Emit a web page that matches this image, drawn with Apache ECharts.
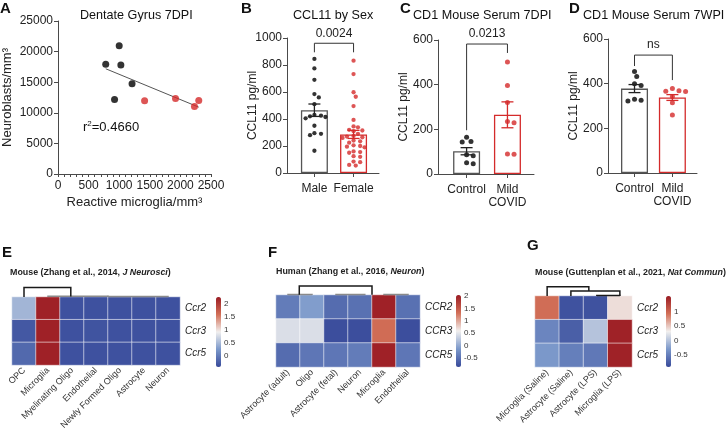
<!DOCTYPE html>
<html lang="en">
<head>
<meta charset="UTF-8">
<title>CCL11 figure</title>
<script src="https://cdn.jsdelivr.net/npm/echarts@6.0.0/dist/echarts.min.js"></script>
<style>
  html, body { margin: 0; padding: 0; background: #fff; }
  #main { width: 727px; height: 432px; }
</style>
</head>
<body>
<div id="main"></div>
<script>
// ---- A: neuroblasts vs reactive microglia (dentate gyrus 7DPI)
var aControlX = [780, 1000, 1027, 924, 1210];
var aControlY = [17930, 20940, 17800, 12170, 14750];
var aCovidX = [1415, 1920, 2230, 2300];
var aCovidY = [11950, 12330, 11020, 12000];
var aR2 = '0.4660';

// ---- B: CCL11 by sex
var sexGroups = ['Male', 'Female'];
var maleVals = [845, 775, 690, 585, 560, 510, 420, 415, 425, 405, 430, 350, 290, 280, 295, 165];
var femaleVals = [832, 733, 598, 565, 496, 393, 345, 338, 320, 315, 310, 290, 275, 270, 265, 260,
  240, 235, 225, 205, 200, 195, 190, 160, 155, 150, 125, 120, 85, 80, 55, 60];
var sexMean = [465, 286];
var sexSem = [46, 30];
var sexP = '0.0024';

// ---- C: CD1 mouse serum 7DPI
var covidGroups = ['Control', 'Mild\nCOVID'];
var c7dControl = [164, 146, 143, 86, 82, 50, 46];
var c7dCovid = [502, 396, 320, 235, 230, 88, 90];
var c7dMean = [102, 265];
var c7dSem = [16, 58];
var c7dP = '0.0213';

// ---- D: CD1 mouse serum 7WPI
var c7wControl = [455, 432, 400, 392, 330, 326, 322];
var c7wCovid = [378, 368, 365, 366, 342, 315, 260];
var c7wMean = [378, 338];
var c7wSem = [18, 13];
var c7wP = 'ns';

// ---- E: mouse, Zhang 2014
var eCols = ['OPC', 'Microglia', 'Myelinating Oligo', 'Endothelial', 'Newly Formed Oligo', 'Astrocyte', 'Neuron'];
var eRows = ['Ccr2', 'Ccr3', 'Ccr5'];
var eCcr2 = [0.45, 2.2, -0.38, -0.38, -0.38, -0.38, -0.38];
var eCcr3 = [-0.32, 2.2, -0.38, -0.36, -0.38, -0.38, -0.38];
var eCcr5 = [-0.18, 2.2, -0.38, -0.38, -0.38, -0.38, -0.38];
var eTicks = [0, 0.5, 1, 1.5, 2];

// ---- F: human, Zhang 2016
var fCols = ['Astrocyte (adult)', 'Oligo', 'Astrocyte (fetal)', 'Neuron', 'Microglia', 'Endothelial'];
var fRows = ['CCR2', 'CCR3', 'CCR5'];
var fCcr2 = [-0.4, -0.1, -0.55, -0.5, 2.0, -0.5];
var fCcr3 = [0.45, 0.45, -0.82, -0.82, 1.35, -0.82];
var fCcr5 = [-0.55, -0.45, -0.45, -0.4, 2.0, -0.45];
var fTicks = [-0.5, 0, 0.5, 1, 1.5, 2];

// ---- G: mouse, Guttenplan 2021
var gCols = ['Microglia (Saline)', 'Astrocyte (Saline)', 'Astrocyte (LPS)', 'Microglia (LPS)'];
var gRows = ['Ccr2', 'Ccr3', 'Ccr5'];
var gCcr2 = [0.95, -0.85, -0.85, 0.4];
var gCcr3 = [-0.45, -0.75, 0.0, 1.5];
var gCcr5 = [-0.3, -0.5, -0.55, 1.5];
var gTicks = [-0.5, 0, 0.5, 1];

// dendrogram links: [x1, x2, top, leftFoot, rightFoot] in column units
var eLinks = [[0, 1.95, 0.8, 0, 0.05]];
var eLinksFaint = [[1, 3.5, 0.06, 0, 0], [3.5, 6, 0.05, 0, 0]];
var fLinks = [[0.47, 3.5, 0.75, 0.03, 0.03]];
var fLinksFaint = [[0, 1, 0.04, 0, 0], [2, 3.2, 0.04, 0, 0], [4, 5, 0.04, 0, 0]];
var gLinks = [[0, 1.72, 0.78, 0, 0.42], [0.98, 3.0, 0.42, 0, 0.05], [2.05, 3.0, 0.05, 0, 0]];

var FONT = '"Liberation Sans", Arial, sans-serif';
var AX = '#4a4a4a';
var RED = '#d42b2b';
var heatColors = ['#37499a', '#7b98ca', '#f1efee', '#d26f57', '#9b1b23'];

var myChart = echarts.init(document.getElementById('main'));

// bar panels layout
var barGrids = [
  { left: 287, top: 38, width: 92, height: 135, max: 1000 },
  { left: 438, top: 40, width: 96, height: 134, max: 600 },
  { left: 608, top: 39, width: 89, height: 134, max: 600 }
];
var X_MIN = 0.3, X_MAX = 2.65;

// simple beeswarm so dots do not overlap
function swarm(values, center, g, diam) {
  var pyu = g.height / g.max;
  var pxu = g.width / (X_MAX - X_MIN);
  var order = values.map(function (v, i) { return i; })
    .sort(function (a, b) { return values[b] - values[a]; });
  var placed = [], out = [];
  order.forEach(function (i) {
    var py = values[i] * pyu, dx = 0;
    for (var k = 0; k < 60; k++) {
      var c = (k === 0 ? 0 : (k % 2 ? 1 : -1) * Math.ceil(k / 2)) * 2.2;
      var ok = placed.every(function (p) { return Math.hypot(p.x - c, p.y - py) >= diam; });
      if (ok) { dx = c; break; }
    }
    placed.push({ x: dx, y: py });
    out[i] = [center + dx / pxu, values[i]];
  });
  return out;
}

function zip(xs, ys) { return xs.map(function (x, i) { return [x, ys[i]]; }); }
function plain(v) { return String(v); }

// least squares line through all A points
function fitLine() {
  var xs = aControlX.concat(aCovidX), ys = aControlY.concat(aCovidY);
  var n = xs.length, mx = 0, my = 0;
  xs.forEach(function (x, i) { mx += x / n; my += ys[i] / n; });
  var sxy = 0, sxx = 0;
  xs.forEach(function (x, i) { sxy += (x - mx) * (ys[i] - my); sxx += (x - mx) * (x - mx); });
  var b = sxy / sxx, a = my - b * mx;
  var x0 = Math.min.apply(null, xs), x1 = Math.max.apply(null, xs);
  return [[x0, a + b * x0], [x1, a + b * x1]];
}

function errItem(color) {
  return function (params, api) {
    var x = api.value(0), m = api.value(1), s = api.value(2);
    var t = api.coord([x, m + s]), b = api.coord([x, m - s]);
    var st = { stroke: color, lineWidth: 1.3 };
    return {
      type: 'group', children: [
        { type: 'line', shape: { x1: t[0], y1: t[1], x2: b[0], y2: b[1] }, style: st },
        { type: 'line', shape: { x1: t[0] - 6, y1: t[1], x2: t[0] + 6, y2: t[1] }, style: st },
        { type: 'line', shape: { x1: b[0] - 6, y1: b[1], x2: b[0] + 6, y2: b[1] }, style: st }
      ]
    };
  };
}

function bracketItem(label) {
  return function (params, api) {
    var top = api.value(0), l = api.value(1), r = api.value(2);
    var p1 = api.coord([1, l]), p2 = api.coord([1, top]), p3 = api.coord([2, top]), p4 = api.coord([2, r]);
    return {
      type: 'group', children: [
        { type: 'polyline', shape: { points: [p1, p2, p3, p4] }, style: { stroke: '#333', lineWidth: 1, fill: 'none' } },
        { type: 'text', x: (p2[0] + p3[0]) / 2, y: p2[1] - 4,
          style: { text: label, align: 'center', verticalAlign: 'bottom', fontSize: 12, fontFamily: FONT, fill: '#222' } }
      ]
    };
  };
}

// group names under the bar panels
function groupLabelItem(names) {
  return function (params, api) {
    var x = api.value(0);
    var p = api.coord([x, 0]);
    return {
      type: 'text', x: p[0], y: p[1] + 9,
      style: { text: names[params.dataIndex], align: 'center', verticalAlign: 'top',
        fontSize: 12, lineHeight: 13, fontFamily: FONT, fill: '#222' }
    };
  };
}

function dendroItem(color, width) {
  return function (params, api) {
    var x1 = api.value(0), x2 = api.value(1), h = api.value(2);
    var pts = [api.coord([x1, api.value(3)]), api.coord([x1, h]), api.coord([x2, h]), api.coord([x2, api.value(4)])];
    return { type: 'polyline', shape: { points: pts }, style: { stroke: color, lineWidth: width, fill: 'none' } };
  };
}

function heatData(rows) {
  var d = [];
  rows.forEach(function (row, r) { row.forEach(function (v, c) { d.push([c, r, v]); }); });
  return d;
}

// ---- axes
var xAxes = [], yAxes = [], grids = [], series = [];

// A
grids.push({ left: 58, top: 21, width: 153, height: 153 });
xAxes.push({
  gridIndex: 0, type: 'value', min: 0, max: 2500, interval: 500,
  name: 'Reactive microglia/mm\u00b3', nameLocation: 'middle', nameGap: 22, nameMoveOverlap: false,
  nameTextStyle: { fontSize: 13, fontFamily: FONT, color: '#222' },
  axisLine: { lineStyle: { color: AX } }, splitLine: { show: false },
  axisTick: { length: 3, lineStyle: { color: AX } },
  minorTick: { show: true, splitNumber: 5, length: 3, lineStyle: { color: AX } },
  axisLabel: { fontSize: 12, fontFamily: FONT, color: '#222', margin: 6, formatter: plain }
});
yAxes.push({
  gridIndex: 0, type: 'value', min: 0, max: 25000, interval: 5000,
  name: 'Neuroblasts/mm\u00b3', nameLocation: 'middle', nameGap: 44, nameRotate: 90, nameMoveOverlap: false,
  nameTextStyle: { fontSize: 13, fontFamily: FONT, color: '#222' },
  axisLine: { show: true, lineStyle: { color: AX } }, splitLine: { show: false },
  axisTick: { show: true, length: 4, lineStyle: { color: AX } },
  axisLabel: { fontSize: 12, fontFamily: FONT, color: '#222', margin: 5, formatter: plain }
});

// B, C, D
var barLabels = [sexGroups, covidGroups, covidGroups];
barGrids.forEach(function (g, i) {
  var gi = i + 1;
  grids.push({ left: g.left, top: g.top, width: g.width, height: g.height });
  xAxes.push({
    gridIndex: gi, type: 'value', min: X_MIN, max: X_MAX,
    axisLine: { lineStyle: { color: AX } }, splitLine: { show: false },
    axisTick: { customValues: [1, 2], length: 4, lineStyle: { color: AX } },
    axisLabel: { show: false }
  });
  yAxes.push({
    gridIndex: gi, type: 'value', min: 0, max: g.max, interval: 200,
    name: 'CCL11 pg/ml', nameLocation: 'middle', nameGap: 28, nameRotate: 90, nameMoveOverlap: false,
    nameTextStyle: { fontSize: 12, fontFamily: FONT, color: '#222' },
    axisLine: { show: true, lineStyle: { color: AX } }, splitLine: { show: false },
    axisTick: { show: true, length: 4, lineStyle: { color: AX } },
    axisLabel: { fontSize: 12, fontFamily: FONT, color: '#222', margin: 5, formatter: plain }
  });
});

// E, F, G heatmaps
var heatLayout = [
  { left: 12, top: 297, width: 168, height: 70, cols: eCols, rows: eRows, vals: [eCcr2, eCcr3, eCcr5], min: -0.45, max: 2.25, ticks: eTicks, cb: 216 },
  { left: 276, top: 295, width: 144, height: 72, cols: fCols, rows: fRows, vals: [fCcr2, fCcr3, fCcr5], min: -0.87, max: 2.05, ticks: fTicks, cb: 456 },
  { left: 535, top: 296, width: 97, height: 71, cols: gCols, rows: gRows, vals: [gCcr2, gCcr3, gCcr5], min: -0.92, max: 1.55, ticks: gTicks, cb: 666 }
];
var visualMaps = [];
heatLayout.forEach(function (h, i) {
  var gi = grids.length;
  grids.push({ left: h.left, top: h.top, width: h.width, height: h.height });
  xAxes.push({
    gridIndex: gi, type: 'category', data: h.cols,
    axisLine: { show: false }, axisTick: { show: false }, splitLine: { show: false },
    axisLabel: { rotate: 45, interval: 0, fontSize: 9, fontFamily: FONT, color: '#333', margin: 4 }
  });
  yAxes.push({
    gridIndex: gi, type: 'category', data: h.rows, inverse: true, position: 'right',
    axisLine: { show: false }, axisTick: { show: false }, splitLine: { show: false },
    axisLabel: { fontSize: 10, fontStyle: 'italic', fontFamily: FONT, color: '#222', margin: 5 }
  });
  series.push({
    type: 'heatmap', xAxisIndex: gi, yAxisIndex: gi, data: heatData(h.vals),
    itemStyle: { borderColor: 'rgba(255,255,255,0.55)', borderWidth: 1 },
    emphasis: { disabled: true }
  });
  visualMaps.push({
    type: 'continuous', seriesIndex: series.length - 1, min: h.min, max: h.max,
    left: h.cb, top: h.top, itemWidth: 5, itemHeight: h.height, padding: 0,
    calculable: false, hoverLink: false, text: null,
    textStyle: { fontSize: 0 },
    inRange: { color: heatColors }
  });
  // colorbar tick labels
  var ci = grids.length;
  grids.push({ left: h.cb, top: h.top, width: 5, height: h.height });
  xAxes.push({ gridIndex: ci, type: 'value', show: false });
  yAxes.push({
    gridIndex: ci, type: 'value', min: h.min, max: h.max, position: 'right',
    axisLine: { show: false }, axisTick: { show: false }, splitLine: { show: false },
    axisLabel: { customValues: h.ticks, fontSize: 8, fontFamily: FONT, color: '#333', margin: 3 }
  });
  // dendrogram strip
  var di = grids.length;
  grids.push({ left: h.left, top: h.top - 12, width: h.width, height: 12 });
  xAxes.push({ gridIndex: di, type: 'value', min: -0.5, max: h.cols.length - 0.5, show: false });
  yAxes.push({ gridIndex: di, type: 'value', min: 0, max: 1, show: false });
  h.dendroIndex = di;
});

// ---- series for A
series.push({
  type: 'line', xAxisIndex: 0, yAxisIndex: 0, data: fitLine(), symbol: 'none',
  lineStyle: { color: '#555', width: 1 }, silent: true, z: 1
});
series.push({
  type: 'scatter', xAxisIndex: 0, yAxisIndex: 0, data: zip(aControlX, aControlY),
  symbolSize: 7, itemStyle: { color: '#000' }, z: 3
});
series.push({
  type: 'scatter', xAxisIndex: 0, yAxisIndex: 0, data: zip(aCovidX, aCovidY),
  symbolSize: 7, itemStyle: { color: RED }, z: 3
});

// ---- series for B, C, D
var barSets = [
  { a: maleVals, b: femaleVals, mean: sexMean, sem: sexSem, p: sexP, br: [961, 894, 894], dot: 4.3 },
  { a: c7dControl, b: c7dCovid, mean: c7dMean, sem: c7dSem, p: c7dP, br: [582, 196, 542], dot: 5 },
  { a: c7wControl, b: c7wCovid, mean: c7wMean, sem: c7wSem, p: c7wP, br: [528, 479, 416], dot: 5 }
];
barSets.forEach(function (s, i) {
  var gi = i + 1, g = barGrids[i];
  series.push({
    type: 'bar', xAxisIndex: gi, yAxisIndex: gi, barWidth: 27,
    data: [
      { value: [1, s.mean[0]], itemStyle: { color: '#fff', borderColor: '#555', borderWidth: 1.3 } },
      { value: [2, s.mean[1]], itemStyle: { color: '#fff', borderColor: RED, borderWidth: 1.3 } }
    ],
    silent: true, z: 1
  });
  series.push({
    type: 'scatter', xAxisIndex: gi, yAxisIndex: gi, data: swarm(s.a, 1, g, s.dot + 0.2),
    symbolSize: s.dot, itemStyle: { color: '#000' }, z: 3
  });
  series.push({
    type: 'scatter', xAxisIndex: gi, yAxisIndex: gi, data: swarm(s.b, 2, g, s.dot + 0.2),
    symbolSize: s.dot, itemStyle: { color: RED }, z: 3
  });
  series.push({
    type: 'custom', xAxisIndex: gi, yAxisIndex: gi, renderItem: errItem('#222'),
    data: [[1, s.mean[0], s.sem[0]]], clip: false, z: 4, silent: true
  });
  series.push({
    type: 'custom', xAxisIndex: gi, yAxisIndex: gi, renderItem: errItem(RED),
    data: [[2, s.mean[1], s.sem[1]]], clip: false, z: 4, silent: true
  });
  series.push({
    type: 'custom', xAxisIndex: gi, yAxisIndex: gi, renderItem: bracketItem(s.p),
    data: [s.br], clip: false, z: 5, silent: true
  });
  series.push({
    type: 'custom', xAxisIndex: gi, yAxisIndex: gi, renderItem: groupLabelItem(barLabels[i]),
    data: [[1, 0], [2, 0]], clip: false, z: 5, silent: true
  });
});

// ---- dendrograms
var dendroSets = [[eLinks, eLinksFaint], [fLinks, fLinksFaint], [gLinks, []]];
heatLayout.forEach(function (h, i) {
  series.push({
    type: 'custom', xAxisIndex: h.dendroIndex, yAxisIndex: h.dendroIndex,
    renderItem: dendroItem('#8a8a8a', 1.5), data: dendroSets[i][1], clip: false, silent: true
  });
  series.push({
    type: 'custom', xAxisIndex: h.dendroIndex, yAxisIndex: h.dendroIndex,
    renderItem: dendroItem('#1a1a1a', 1.5), data: dendroSets[i][0], clip: false, silent: true
  });
});

var letter = { fontSize: 15, fontWeight: 'bold', fontFamily: FONT, color: '#111' };
var panelTitle = { fontSize: 12.6, fontWeight: 'normal', fontFamily: FONT, color: '#111' };
var smallTitle = {
  fontSize: 8.9, fontWeight: 'bold', fontFamily: FONT, color: '#222',
  rich: { i: { fontSize: 8.9, fontWeight: 'bold', fontStyle: 'italic', fontFamily: FONT, color: '#222' } }
};
function T(text, left, top, style) { return { text: text, left: left, top: top, padding: 0, textStyle: style }; }

var option = {
  animation: false,
  backgroundColor: '#fff',
  title: [
    T('A', 0, 1, letter), T('B', 241, 1, letter), T('C', 400, 1, letter), T('D', 569, 1, letter),
    T('E', 2, 245, letter), T('F', 268, 245, letter), T('G', 527, 238, letter),
    T('Dentate Gyrus 7DPI', 80, 9, panelTitle),
    T('CCL11 by Sex', 293, 9, panelTitle),
    T('CD1 Mouse Serum 7DPI', 413, 9, panelTitle),
    T('CD1 Mouse Serum 7WPI', 583, 9, panelTitle),
    T('Mouse (Zhang et al., 2014, {i|J Neurosci})', 10, 268, smallTitle),
    T('Human (Zhang et al., 2016, {i|Neuron})', 276, 267, smallTitle),
    T('Mouse (Guttenplan et al., 2021, {i|Nat Commun})', 535, 268, smallTitle)
  ],
  graphic: [
    {
      type: 'text', left: 83, top: 120,
      style: {
        text: 'r{s|2}=' + aR2, fontSize: 13, fontFamily: FONT, fill: '#111',
        rich: { s: { fontSize: 8, verticalAlign: 'top', padding: [0, 0, 6, 0], fontFamily: FONT } }
      }
    }
  ],
  grid: grids,
  xAxis: xAxes,
  yAxis: yAxes,
  visualMap: visualMaps,
  series: series
};
myChart.setOption(option);
</script>
</body>
</html>
